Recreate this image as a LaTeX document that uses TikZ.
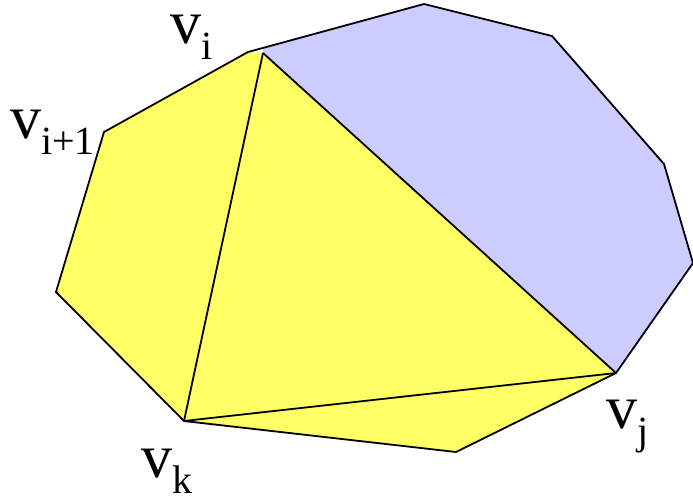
\documentclass[tikz,border=0pt]{standalone}
\usepackage{fontspec}
\setmainfont{Liberation Serif}
\definecolor{polyyellow}{RGB}{255,255,102}
\definecolor{polyblue}{RGB}{204,204,255}
\newcommand{\vlab}[1]{\fontsize{62}{62}\selectfont v\raisebox{-16pt}{\fontsize{40}{40}\selectfont #1}}
\tikzset{
  edge/.style={draw=black, line width=1.8pt, line join=miter},
  lab/.style={inner sep=0pt, anchor=base west},
}
\begin{document}
\begin{tikzpicture}[x=1pt,y=-1pt]
\useasboundingbox (0,0) rectangle (693,496);
% polygon vertices (pixel coordinates)
\coordinate (A)  at (248,52);
\coordinate (T)  at (424,4);
\coordinate (R1) at (552,36);
\coordinate (R2) at (664,164);
\coordinate (R3) at (693,263);
\coordinate (vj) at (616,373);
\coordinate (B)  at (456,452);
\coordinate (vk) at (184,421);
\coordinate (L1) at (56,292);
\coordinate (L2) at (104,132);
\coordinate (vi) at (263,53);
\coordinate (vt) at (263,48);
% fills
\fill[polyyellow] (A) -- (vi) -- (vj) -- (B) -- (vk) -- (L1) -- (L2) -- cycle;
\fill[polyblue] (vi) -- (vt) -- (T) -- (R1) -- (R2) -- (R3) -- (vj) -- cycle;
% outline and diagonals
\draw[edge] (A) -- (T) -- (R1) -- (R2) -- (R3) -- (vj) -- (B) -- (vk) -- (L1) -- (L2) -- cycle;
\draw[edge] (vi) -- (vk);
\draw[edge] (vi) -- (vj);
\draw[edge] (vk) -- (vj);
% labels
\node[lab] (li)  at (170,43)  {\vlab{i}};
\node[lab] (li1) at (10,138)  {\vlab{i+1}};
\node[lab] (lj)  at (606,428) {\vlab{j}};
\node[lab] (lk)  at (141,477) {\vlab{k}};
\end{tikzpicture}
\end{document}
